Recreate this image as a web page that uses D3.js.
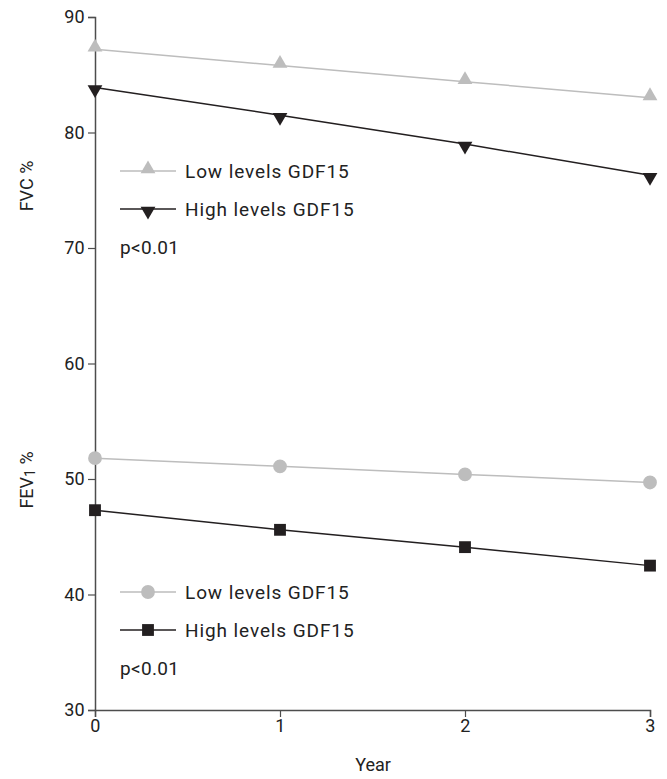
<!DOCTYPE html>
<html><head><meta charset="utf-8">
<script src="https://cdn.jsdelivr.net/npm/d3@7"></script>
<style>body{margin:0;background:#fff;} text{font-family:Roboto, "DejaVu Sans", sans-serif;}</style>
</head><body>
<svg id="c" width="667" height="779"></svg>
<script>
const years = [0, 1, 2, 3];
const yTicks = [30, 40, 50, 60, 70, 80, 90];
const fvcLow = [87.2, 85.8, 84.4, 83.0];
const fvcHigh = [83.9, 81.5, 79.0, 76.3];
const fev1Low = [51.8, 51.1, 50.4, 49.7];
const fev1High = [47.3, 45.6, 44.1, 42.5];
const legendLabels = ["Low levels GDF15", "High levels GDF15"];
const pText = "p<0.01";

const lowColor = "#bdbdbd", highColor = "#231f20", axisColor = "#4d4d4d";
const svg = d3.select("#c");
const x = d3.scaleLinear().domain([0, 3]).range([95, 650]);
const y = d3.scaleLinear().domain([30, 90]).range([710, 17]);

// axes
const yAxis = svg.append("g").attr("transform", "translate(95,0)")
  .call(d3.axisLeft(y).tickValues(yTicks).tickSize(7).tickPadding(3).tickFormat(d3.format("d")));
const xAxis = svg.append("g").attr("transform", "translate(0,710)")
  .call(d3.axisBottom(x).tickValues(years).tickSize(7).tickPadding(2).tickFormat(d3.format("d")));
[yAxis, xAxis].forEach(g => {
  g.select(".domain").attr("stroke", axisColor).attr("stroke-width", 1.5);
  g.selectAll(".tick line").attr("stroke", axisColor).attr("stroke-width", 1.2);
  g.selectAll(".tick text").attr("fill", "#222").style("font-size", "18px").style("letter-spacing", "0.3px");
});

const tri = d3.symbol().type(d3.symbolTriangle).size(95);
const sq = d3.symbol().type(d3.symbolSquare).size(140);
const circ = d3.symbol().type(d3.symbolCircle).size(150);

function series(vals, color, sym, rot) {
  const line = d3.line().x((d, i) => x(years[i])).y(d => y(d));
  svg.append("path").attr("d", line(vals)).attr("fill", "none").attr("stroke", color).attr("stroke-width", 1.5);
  svg.selectAll(null).data(vals).enter().append("path")
    .attr("d", sym)
    .attr("transform", (d, i) => `translate(${x(years[i])},${y(d) + (rot ? 2 : (sym === tri ? -2 : 0))}) rotate(${rot})`)
    .attr("fill", color);
}
series(fvcLow, lowColor, tri, 0);
series(fvcHigh, highColor, tri, 180);
series(fev1Low, lowColor, circ, 0);
series(fev1High, highColor, sq, 0);

function legend(y0, items) {
  items.forEach((it, k) => {
    const yy = y0 + k * 38;
    svg.append("line").attr("x1", 120).attr("x2", 176).attr("y1", yy).attr("y2", yy)
      .attr("stroke", it.color).attr("stroke-width", 1.5);
    svg.append("path").attr("d", it.sym)
      .attr("transform", `translate(148,${yy + (it.rot ? 2 : (it.sym === tri ? -2 : 0))}) rotate(${it.rot})`)
      .attr("fill", it.color);
    svg.append("text").attr("x", 185).attr("y", yy + 7).text(legendLabels[k])
      .style("font-size", "19px").style("letter-spacing", "0.9px").attr("fill", "#222");
  });
  svg.append("text").attr("x", 120).attr("y", y0 + 2 * 38 + 7).text(pText)
    .style("font-size", "19px").style("letter-spacing", "0.3px").attr("fill", "#222");
}
legend(171, [{color: lowColor, sym: tri, rot: 0}, {color: highColor, sym: tri, rot: 180}]);
legend(592, [{color: lowColor, sym: circ, rot: 0}, {color: highColor, sym: sq, rot: 0}]);

// axis titles
svg.append("text").attr("transform", "translate(33,186) rotate(-90)").attr("text-anchor", "middle")
  .style("font-size", "18px").attr("fill", "#222").text("FVC %");
const fev = svg.append("text").attr("transform", "translate(33,480) rotate(-90)").attr("text-anchor", "middle")
  .style("font-size", "18px").attr("fill", "#222");
fev.append("tspan").text("FEV");
fev.append("tspan").text("1").style("font-size", "14px").attr("dy", 2);
fev.append("tspan").text(" %").attr("dy", -2);
svg.append("text").attr("x", 373).attr("y", 771).attr("text-anchor", "middle")
  .style("font-size", "18px").attr("fill", "#222").text("Year");
</script>
</body></html>
